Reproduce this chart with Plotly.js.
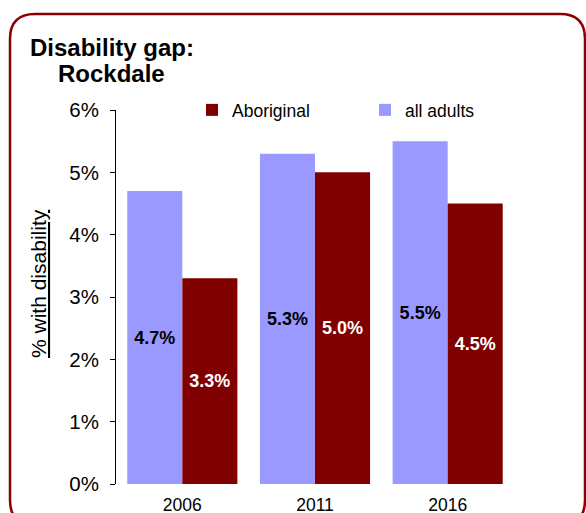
<!DOCTYPE html>
<html>
<head>
<meta charset="utf-8">
<script src="https://cdn.plot.ly/plotly-3.0.1.min.js"></script>
<style>html,body{margin:0;padding:0;background:#fff;}#chart{width:586px;height:513px;}</style>
</head>
<body>
<div id="chart"></div>
<script>
const years = ['2006', '2011', '2016'];
const allAdults = [4.7, 5.3, 5.5];
const aboriginal = [3.3, 5.0, 4.5];
const tickVals = [0, 1, 2, 3, 4, 5, 6];
const tickText = ['0%', '1%', '2%', '3%', '4%', '5%', '6%'];

const W = 586, H = 513;
const M = {l: 116, r: 72, t: 110, b: 29, autoexpand: false};
const pw = W - M.l - M.r, ph = H - M.t - M.b;
const px = x => (x - M.l) / pw;
const py = y => (H - M.b - y) / ph;

// rounded border path in paper coords
const bx0 = 10, bx1 = 585, by0 = 14, by1 = 525, r = 25;
const borderPath =
  `M${px(bx0)},${py(by0 + r)} Q${px(bx0)},${py(by0)} ${px(bx0 + r)},${py(by0)} ` +
  `L${px(bx1 - r)},${py(by0)} Q${px(bx1)},${py(by0)} ${px(bx1)},${py(by0 + r)} ` +
  `L${px(bx1)},${py(by1 - r)} Q${px(bx1)},${py(by1)} ${px(bx1 - r)},${py(by1)} ` +
  `L${px(bx0 + r)},${py(by1)} Q${px(bx0)},${py(by1)} ${px(bx0)},${py(by1 - r)} Z`;

const font = 'Arial, "Liberation Sans", sans-serif';

const traces = [
  {
    type: 'bar', name: 'all adults', x: years, y: allAdults,
    marker: {color: '#9999FF'},
    texttemplate: '%{y:.1f}%', textposition: 'inside', insidetextanchor: 'middle',
    textangle: 0, constraintext: 'none',
    insidetextfont: {family: font, size: 18, color: '#000', weight: 'bold'},
    legendrank: 2, hoverinfo: 'skip'
  },
  {
    type: 'bar', name: 'Aboriginal', x: years, y: aboriginal,
    marker: {color: '#800000'},
    texttemplate: '%{y:.1f}%', textposition: 'inside', insidetextanchor: 'middle',
    textangle: 0, constraintext: 'none',
    insidetextfont: {family: font, size: 18, color: '#fff', weight: 'bold'},
    legendrank: 1, hoverinfo: 'skip'
  }
];

const layout = {
  width: W, height: H,
  margin: M,
  paper_bgcolor: '#fff', plot_bgcolor: '#fff',
  font: {family: font, size: 16, color: '#000'},
  barmode: 'group', bargap: 0.17, bargroupgap: 0,
  title: {
    text: '<b>Disability gap:</b>',
    font: {family: font, size: 24, color: '#000'},
    xref: 'container', yref: 'container',
    x: 112 / W, xanchor: 'center',
    y: 1 - 48 / H, yanchor: 'middle'
  },
  annotations: [
    {
      text: '<b>Rockdale</b>', xref: 'paper', yref: 'paper',
      x: px(111), y: py(73), xanchor: 'center', yanchor: 'middle',
      showarrow: false, font: {family: font, size: 24, color: '#000'}
    },
    {
      text: '<span style="text-decoration:underline">% with disability</span>',
      xref: 'paper', yref: 'paper', x: px(38), y: py(284),
      xanchor: 'center', yanchor: 'middle', textangle: -90,
      showarrow: false, font: {family: font, size: 21, color: '#000'}
    }
  ],
  xaxis: {
    type: 'category', range: [-0.5, 2.5], automargin: false,
    showline: false, ticks: '', showgrid: false, zeroline: false,
    ticklabelstandoff: 8,
    tickfont: {family: font, size: 17.5, color: '#000'}
  },
  yaxis: {
    range: [0, 6], tickmode: 'array', tickvals: tickVals, ticktext: tickText,
    automargin: false,
    showline: true, linecolor: '#000', linewidth: 1,
    ticks: 'outside', ticklen: 5, tickcolor: '#000',
    showgrid: false, zeroline: false,
    ticklabelstandoff: 7,
    tickfont: {family: font, size: 20.5, color: '#000'}
  },
  legend: {
    orientation: 'h', xref: 'container', x: 192 / W, xanchor: 'left',
    yref: 'paper', y: 1, yanchor: 'middle',
    font: {family: font, size: 17.5, color: '#000'},
    entrywidth: 128, traceorder: 'normal', bgcolor: 'rgba(0,0,0,0)'
  },
  shapes: [{
    type: 'path', xref: 'paper', yref: 'paper', path: borderPath,
    line: {color: '#8B0000', width: 2.5}, fillcolor: 'rgba(0,0,0,0)', layer: 'above'
  }],
  showlegend: true
};

Plotly.newPlot('chart', traces, layout, {displayModeBar: false, staticPlot: true});
</script>
</body>
</html>
